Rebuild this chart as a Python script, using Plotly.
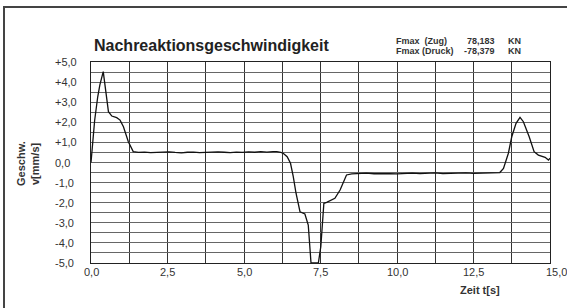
import plotly.graph_objects as go

# ---- data ----
time_s = [0.00, 0.05, 0.12, 0.22, 0.29, 0.40, 0.50, 0.57, 0.68, 0.84, 0.95, 1.06, 1.22, 1.38,
          1.55, 1.75, 1.95, 2.15, 2.35, 2.55, 2.75, 2.95, 3.15, 3.35, 3.55, 3.75, 3.95, 4.15,
          4.35, 4.55, 4.75, 4.95, 5.15, 5.35, 5.55, 5.75, 5.95, 6.07, 6.20, 6.28, 6.41, 6.52,
          6.61, 6.70, 6.83, 6.99, 7.10, 7.19, 7.30, 7.43, 7.51, 7.61, 7.70, 7.97, 8.14, 8.35,
          8.52, 8.75, 9.00, 9.25, 9.50, 9.75, 10.00, 10.25, 10.50, 10.75, 11.00, 11.25, 11.50,
          11.75, 12.00, 12.25, 12.50, 12.75, 13.00, 13.20, 13.36, 13.48, 13.56, 13.64, 13.75,
          13.89, 14.02, 14.13, 14.32, 14.48, 14.62, 14.84, 14.95, 15.00]
velocity = [0.00, 0.90, 2.10, 3.27, 3.86, 4.52, 3.40, 2.53, 2.31, 2.23, 2.11, 1.78, 1.03, 0.54,
            0.50, 0.52, 0.49, 0.51, 0.50, 0.53, 0.50, 0.48, 0.51, 0.52, 0.49, 0.51, 0.50, 0.53,
            0.51, 0.49, 0.52, 0.50, 0.53, 0.51, 0.54, 0.52, 0.54, 0.54, 0.50, 0.46, 0.29, -0.04,
            -0.70, -1.53, -2.45, -2.56, -3.11, -5.00, -5.00, -5.00, -4.19, -2.03, -1.98, -1.78,
            -1.37, -0.62, -0.57, -0.55, -0.53, -0.56, -0.54, -0.55, -0.57, -0.55, -0.53, -0.55,
            -0.54, -0.52, -0.55, -0.53, -0.54, -0.52, -0.54, -0.53, -0.51, -0.50, -0.50, -0.29,
            0.10, 0.46, 1.28, 1.95, 2.25, 2.03, 1.28, 0.54, 0.37, 0.26, 0.12, 0.21]

x_grid = [i * 1.25 for i in range(13)]
x_tick_vals = [0.0, 2.5, 5.0, 7.5, 10.0, 12.5, 15.0]
x_tick_text = ["0,0", "2,5", "5,0", "7,5", "10,0", "12,5", "15,0"]
y_grid = [-5 + i * 0.5 for i in range(21)]
y_tick_vals = [5, 4, 3, 2, 1, 0, -1, -2, -3, -4, -5]
y_tick_text = ["+5,0", "+4,0", "+3,0", "+2,0", "+1,0", "0,0", "-1,0", "-2,0", "-3,0", "-4,0", "-5,0"]

title_text = "Nachreaktionsgeschwindigkeit"
fmax_labels = ["Fmax  (Zug)", "Fmax (Druck)"]
fmax_values = ["78,183", "-78,379"]
fmax_units = ["KN", "KN"]

# ---- layout geometry (pixels) ----
W, H = 567, 308
L, R, T, B = 91, 550, 62, 263
pw, ph = R - L, B - T


def px(x):
    return (x - L) / pw


def py(y):
    return (B - y) / ph


FONT = "Liberation Sans, Arial, sans-serif"

fig = go.Figure()
fig.add_trace(go.Scatter(x=time_s, y=velocity, mode="lines",
                         line=dict(color="#111111", width=1.3), showlegend=False))

ann = []
for v, t in zip(y_tick_vals, y_tick_text):
    ann.append(dict(x=px(53), xref="paper", y=v, yref="y", text=t, showarrow=False,
                    xanchor="left", yanchor="middle", font=dict(size=11, color="#333", family=FONT)))
for v, t in zip(x_tick_vals, x_tick_text):
    ann.append(dict(x=v, xref="x", y=py(272), yref="paper", text=t, showarrow=False,
                    xanchor="center", yanchor="middle", xshift=6 if v == 15.0 else 0,
                    font=dict(size=11, color="#333", family=FONT)))

ann.append(dict(x=px(92), xref="paper", y=py(46), yref="paper", text="<b>" + title_text + "</b>",
                showarrow=False, xanchor="left", yanchor="middle",
                font=dict(size=16, color="#222", family=FONT)))
for i in range(2):
    yy = py(40.5 + i * 10)
    common = dict(xref="paper", y=yy, yref="paper", showarrow=False, yanchor="middle",
                  borderpad=0, font=dict(size=9, color="#333", family=FONT))
    ann.append(dict(x=px(395), text="<b>" + fmax_labels[i] + "</b>", xanchor="left", **common))
    ann.append(dict(x=px(496), text="<b>" + fmax_values[i] + "</b>", xanchor="right", **common))
    ann.append(dict(x=px(507), text="<b>" + fmax_units[i] + "</b>", xanchor="left", **common))

ann.append(dict(x=px(21), xref="paper", y=py(164), yref="paper", text="<b>Geschw.</b>",
                showarrow=False, textangle=-90, xanchor="center", yanchor="middle",
                font=dict(size=11, color="#333", family=FONT)))
ann.append(dict(x=px(35), xref="paper", y=py(164), yref="paper", text="<b>v[mm/s]</b>",
                showarrow=False, textangle=-90, xanchor="center", yanchor="middle",
                font=dict(size=11, color="#333", family=FONT)))
ann.append(dict(x=px(480), xref="paper", y=py(290), yref="paper", text="<b>Zeit t[s]</b>",
                showarrow=False, xanchor="center", yanchor="middle",
                font=dict(size=11, color="#333", family=FONT)))

fig.update_layout(
    width=W, height=H,
    margin=dict(l=L, r=W - R, t=T, b=H - B),
    paper_bgcolor="white", plot_bgcolor="white",
    annotations=ann,
    shapes=[dict(type="rect", xref="paper", yref="paper",
                 x0=px(4), x1=px(575), y0=py(320), y1=py(7),
                 line=dict(color="#444", width=2), layer="below")],
    xaxis=dict(range=[0, 15], tickmode="array", tickvals=x_grid, showticklabels=False,
               ticks="", showgrid=True, gridcolor="#333", gridwidth=1, zeroline=False,
               showline=True, mirror=True, linecolor="#222", linewidth=1, fixedrange=True),
    yaxis=dict(range=[-5, 5], tickmode="array", tickvals=y_grid, showticklabels=False,
               ticks="", showgrid=True, gridcolor="#666", gridwidth=1, zeroline=False,
               showline=True, mirror=True, linecolor="#222", linewidth=1, fixedrange=True),
)

fig.write_html("out.html", config={"displayModeBar": False},
               post_script="document.body.style.margin='0px';document.body.style.overflow='hidden';")
